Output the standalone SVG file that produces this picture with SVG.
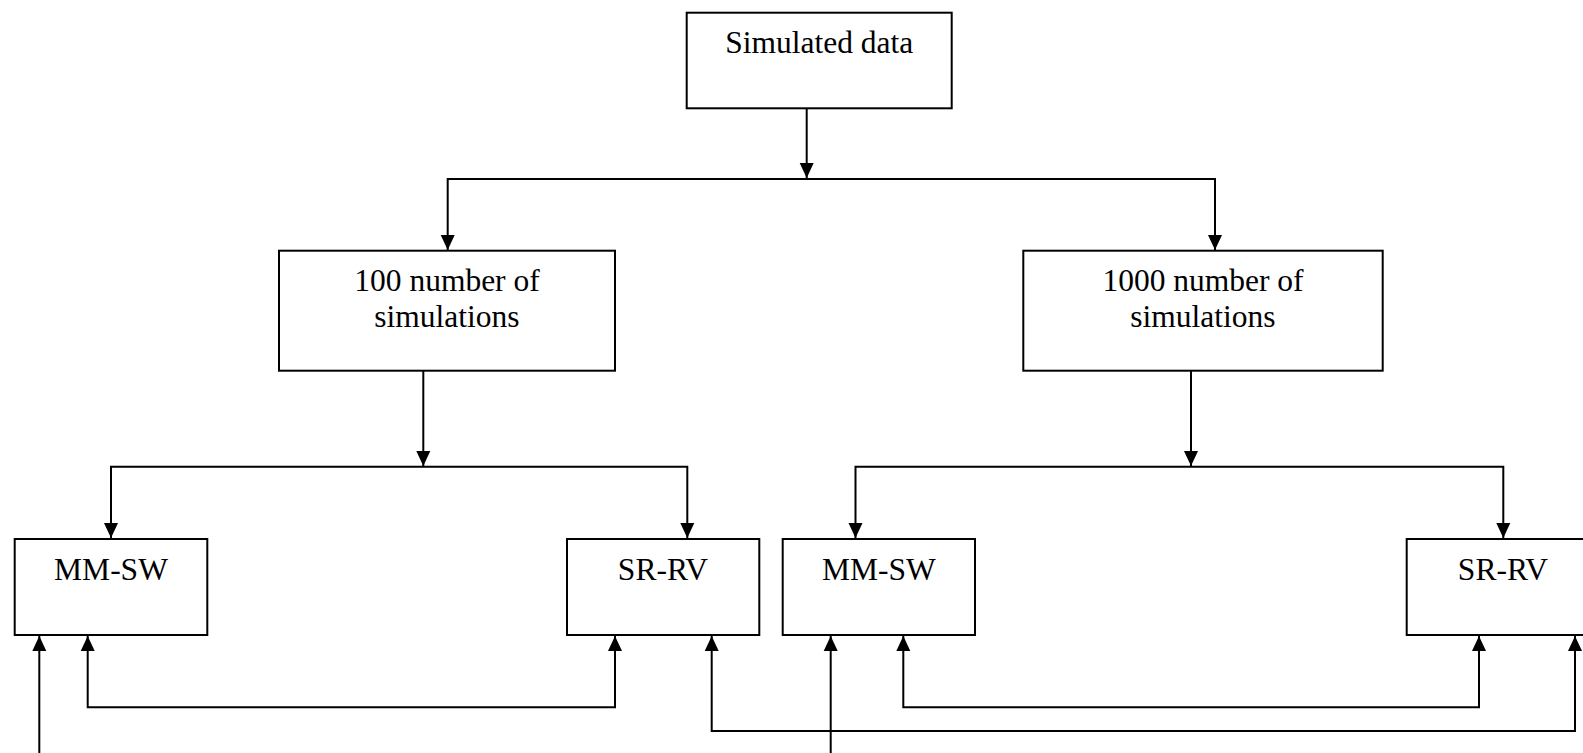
<svg xmlns="http://www.w3.org/2000/svg" width="1583" height="753" viewBox="0 0 1583 753">
<style>
.box{fill:#fff;stroke:#000;stroke-width:2}
.lbl{font-family:"Liberation Serif","Times New Roman",serif;font-size:31.5px;fill:#000;text-anchor:middle}
.c{fill:none;stroke:#000;stroke-width:2}
</style>
<defs>
<marker id="ah" markerUnits="userSpaceOnUse" markerWidth="16" markerHeight="16" viewBox="0 0 16 16" refX="15" refY="8" orient="auto-start-reverse">
<path d="M0,1 L15,8 L0,15 Z" fill="#000"/>
</marker>
</defs>
<rect width="1583" height="753" fill="#fff"/>
<g id="connectors">
<line class="c" x1="806.7" y1="108.3" x2="806.7" y2="178" marker-end="url(#ah)"/>
<path class="c" d="M447.7,250 L447.7,179 L1215,179 L1215,250" marker-start="url(#ah)" marker-end="url(#ah)"/>
<line class="c" x1="423.3" y1="370.7" x2="423.3" y2="466" marker-end="url(#ah)"/>
<path class="c" d="M111,538 L111,466.7 L687.3,466.7 L687.3,538" marker-start="url(#ah)" marker-end="url(#ah)"/>
<line class="c" x1="1191" y1="370.7" x2="1191" y2="466" marker-end="url(#ah)"/>
<path class="c" d="M855.5,538 L855.5,466.7 L1503.3,466.7 L1503.3,538" marker-start="url(#ah)" marker-end="url(#ah)"/>
<line class="c" x1="39.3" y1="753" x2="39.3" y2="636" marker-end="url(#ah)"/>
<path class="c" d="M87.7,636 L87.7,707.3 L615,707.3 L615,636" marker-start="url(#ah)" marker-end="url(#ah)"/>
<path class="c" d="M711.7,636 L711.7,731 L1575,731 L1575,636" marker-start="url(#ah)" marker-end="url(#ah)"/>
<line class="c" x1="830.7" y1="753" x2="830.7" y2="636" marker-end="url(#ah)"/>
<path class="c" d="M903.3,636 L903.3,707.3 L1479,707.3 L1479,636" marker-start="url(#ah)" marker-end="url(#ah)"/>
</g>
<g id="simulated-data">
<rect class="box" x="686.7" y="12.7" width="265" height="95.6"/>
<text class="lbl" x="819.2" y="53.3">Simulated data</text>
</g>
<g id="sim-100">
<rect class="box" x="279" y="250.7" width="336" height="120"/>
<text class="lbl" x="447" y="290.7">100 number of</text>
<text class="lbl" x="447" y="326.7">simulations</text>
</g>
<g id="sim-1000">
<rect class="box" x="1023.3" y="250.7" width="359.4" height="120"/>
<text class="lbl" x="1203" y="290.7">1000 number of</text>
<text class="lbl" x="1203" y="326.7">simulations</text>
</g>
<g id="mmsw-100">
<rect class="box" x="14.7" y="539" width="192.6" height="96"/>
<text class="lbl" x="111" y="580">MM-SW</text>
</g>
<g id="srrv-100">
<rect class="box" x="567" y="539" width="192.3" height="96"/>
<text class="lbl" x="663" y="580">SR-RV</text>
</g>
<g id="mmsw-1000">
<rect class="box" x="782.7" y="539" width="192.3" height="96"/>
<text class="lbl" x="878.8" y="580">MM-SW</text>
</g>
<g id="srrv-1000">
<rect class="box" x="1406.7" y="539" width="192.6" height="96"/>
<text class="lbl" x="1503" y="580">SR-RV</text>
</g>
</svg>
